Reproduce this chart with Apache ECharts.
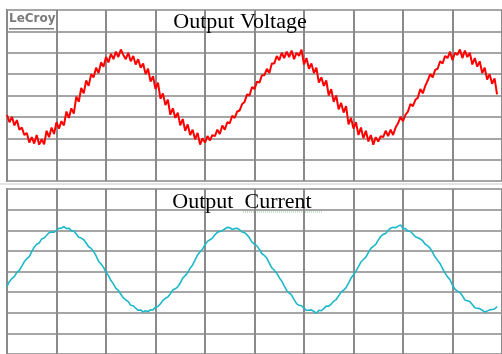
<!DOCTYPE html>
<html>
<head>
<meta charset="utf-8">
<script src="https://cdn.jsdelivr.net/npm/echarts@6/dist/echarts.min.js"></script>
<style>
html,body{margin:0;padding:0;background:#fff;}
#chart{width:502px;height:354px;}
</style>
</head>
<body>
<div id="chart"></div>
<script>
// Oscilloscope capture: 10 divisions x 5 ms, sampled every 0.25 ms
const SAMPLE_MS = 0.25;
const titles = ["Output Voltage", "Output  Current"];
const brand = "LeCroy";

// Output voltage (V), 100 V/div
const voltage = [
  -91, -125, -100, -140, -115, -160, -150, -185,
  -175, -220, -195, -225, -185, -230, -205, -228,
  -165, -195, -150, -180, -125, -155, -120, -140,
  -75, -105, -60, -85, -5, -30, 35, 10,
  70, 45, 100, 85, 130, 105, 155, 135,
  180, 155, 195, 170, 205, 180, 215, 190,
  170, 200, 160, 185, 145, 170, 130, 150,
  100, 125, 65, 90, 30, 60, -15, 10,
  -45, -20, -90, -60, -105, -80, -140, -110,
  -165, -135, -185, -160, -205, -175, -230, -200,
  -220, -190, -210, -185, -190, -160, -180, -140,
  -160, -125, -130, -95, -105, -75, -70, -40,
  -30, 5, 0, 40, 30, 65, 60, 95,
  95, 125, 105, 150, 150, 185, 165, 200,
  175, 205, 180, 210, 170, 200, 185, 215,
  145, 175, 125, 150, 105, 130, 60, 85,
  45, 70, 0, 30, -30, 0, -65, -35,
  -80, -50, -135, -105, -155, -125, -185, -150,
  -200, -165, -215, -185, -230, -195, -215, -190,
  -195, -165, -190, -160, -185, -150, -130, -100,
  -120, -90, -75, -40, -50, -20, -10, 30,
  10, 45, 70, 100, 85, 120, 125, 160,
  150, 185, 175, 205, 165, 200, 190, 215,
  175, 210, 180, 200, 145, 175, 135, 160,
  105, 130, 75, 100, 55, 80, 5
];

// Output current (A), 5 A/div
const current = [
  -3.6, -2.4, -1.7, -1.2, -0.2, 0.3, 1.3, 2.4,
  3.1, 3.6, 4.8, 5.9, 6.6, 6.9, 7.9, 8.1,
  8.8, 9.4, 9.6, 9.5, 10.0, 10.5, 10.5, 10.9,
  10.4, 10.5, 9.9, 9.8, 9.1, 8.3, 8.1, 7.7,
  6.9, 6.0, 5.6, 4.9, 3.8, 2.5, 1.8, 1.0,
  -0.2, -1.0, -2.2, -3.0, -4.1, -4.6, -5.5, -6.4,
  -6.9, -7.3, -8.2, -8.3, -8.9, -9.4, -9.3, -9.8,
  -9.5, -9.7, -9.3, -9.3, -8.6, -8.5, -7.8, -7.0,
  -6.5, -6.2, -5.4, -4.5, -4.2, -3.7, -2.8, -1.6,
  -1.0, -0.3, 0.8, 1.6, 2.8, 4.0, 4.8, 5.4,
  6.5, 7.3, 7.7, 8.1, 8.9, 9.5, 9.7, 9.9,
  10.3, 10.7, 10.6, 10.2, 10.4, 10.5, 10.1, 9.6,
  9.4, 8.9, 8.1, 7.1, 6.6, 6.2, 5.3, 4.3,
  3.9, 3.2, 2.0, 0.9, 0.3, -0.4, -1.5, -2.3,
  -3.5, -4.6, -5.2, -5.7, -6.8, -7.8, -8.2, -8.3,
  -8.9, -9.4, -9.4, -9.3, -9.7, -10.1, -9.4, -9.5,
  -9.0, -8.4, -8.4, -7.9, -7.2, -6.8, -5.9, -5.0,
  -4.5, -3.9, -2.8, -1.6, -0.8, 0.1, 1.2, 2.3,
  2.9, 3.5, 4.6, 5.6, 6.1, 6.6, 7.6, 8.5,
  9.0, 9.2, 10.0, 10.5, 10.7, 10.6, 11.0, 11.3,
  10.4, 10.4, 9.8, 9.7, 9.1, 8.4, 8.2, 7.9,
  7.4, 6.6, 6.2, 5.6, 4.6, 3.5, 2.7, 1.9,
  0.7, -0.4, -1.3, -2.0, -3.3, -4.3, -4.8, -5.1,
  -5.9, -6.9, -7.1, -7.3, -8.0, -8.8, -8.9, -9.0,
  -9.4, -9.8, -9.6, -9.3, -9.2, -9.1, -8.5
];

const vData = voltage.map((v, i) => [i * SAMPLE_MS, v]);
const iData = current.map((v, i) => [i * SAMPLE_MS, v]);

const GRID_V = '#8a8a8a';
const GRID_H = '#a6a6a6';

function xAxisFor(gi) {
  return {
    type: 'value', gridIndex: gi, min: 0, max: 50, interval: 5,
    axisLine: {show: false}, axisTick: {show: false}, axisLabel: {show: false},
    splitLine: {show: true, lineStyle: {color: GRID_V, width: 2}}
  };
}
function yAxisFor(gi, lim, step) {
  return {
    type: 'value', gridIndex: gi, min: -lim, max: lim, interval: step,
    axisLine: {show: false}, axisTick: {show: false}, axisLabel: {show: false},
    splitLine: {show: true, lineStyle: {color: GRID_H, width: 2}}
  };
}

const chart = echarts.init(document.getElementById('chart'), null, {renderer: 'canvas'});
chart.setOption({
  animation: false,
  backgroundColor: '#ffffff',
  grid: [
    {left: 7, top: 10, width: 500, height: 171, show: true, borderColor: '#7f7f7f', borderWidth: 2, backgroundColor: 'transparent'},
    {left: 7, top: 189, width: 500, height: 171, show: true, borderColor: '#7f7f7f', borderWidth: 2, backgroundColor: 'transparent'}
  ],
  xAxis: [xAxisFor(0), xAxisFor(1)],
  yAxis: [yAxisFor(0, 400, 100), yAxisFor(1, 20, 5)],
  title: [
    {text: titles[0], left: 240, top: 11, textAlign: 'center', padding: 0,
     textStyle: {fontFamily: 'Liberation Serif', fontSize: 22, fontWeight: 'normal', color: '#000'}},
    {text: titles[1], left: 242, top: 191, textAlign: 'center', padding: 0,
     textStyle: {fontFamily: 'Liberation Serif', fontSize: 22, fontWeight: 'normal', color: '#000'}}
  ],
  graphic: [
    {type: 'text', left: 9, top: 13, style: {text: brand, fontFamily: 'DejaVu Sans', fontWeight: 'bold', fontSize: 12, fill: '#7a7a7a'}},
    {type: 'rect', shape: {x: 9, y: 28, width: 45, height: 1.5}, style: {fill: '#7a7a7a'}},
    {type: 'rect', shape: {x: 0, y: 183, width: 502, height: 2}, style: {fill: '#e4e4e4'}},
    {type: 'line', shape: {x1: 243, y1: 212, x2: 322, y2: 212}, style: {stroke: '#8cc68a', lineWidth: 1, lineDash: [1, 1]}}
  ],
  series: [
    {type: 'line', xAxisIndex: 0, yAxisIndex: 0, data: vData, showSymbol: false, silent: true,
     lineStyle: {color: '#ff0000', width: 2}},
    {type: 'line', xAxisIndex: 1, yAxisIndex: 1, data: iData, showSymbol: false, silent: true,
     lineStyle: {color: '#1cb8c9', width: 1.6}}
  ]
});
</script>
</body>
</html>
